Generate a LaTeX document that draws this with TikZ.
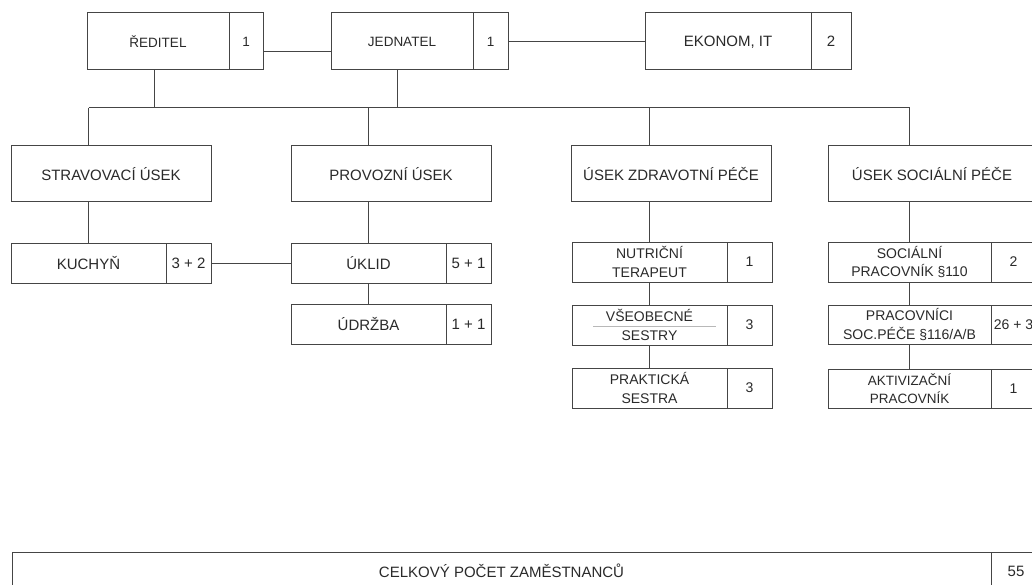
\documentclass[tikz,border=0pt]{standalone}
\usepackage{fontspec}
\setmainfont{Liberation Sans}
\definecolor{linec}{HTML}{454545}
\definecolor{textc}{HTML}{2A2A2A}
\definecolor{faint}{HTML}{B8B8B8}
\newcommand\fsz[1]{\fontsize{#1}{18.5}\selectfont}
\tikzset{
  frame/.style={draw=linec, line width=1pt, inner sep=0pt, outer sep=0pt,
                anchor=north west, align=center, text=textc},
  mainbox/.style args={#1x#2}{frame, minimum width=#1, minimum height=#2},
  cntbox/.style args={#1x#2}{frame, minimum width=#1, minimum height=#2},
  link/.style={draw=linec, line width=1pt},
}
\begin{document}
\begin{tikzpicture}[x=1pt, y=-1pt]
\clip (0,0) rectangle (1032,585);
\fill[white] (0,0) rectangle (1032,585);

% management row
\node[mainbox=142x57, font=\fsz{13.5}] (red) at (87,13) {ŘEDITEL};
\node[cntbox=34x57, font=\fsz{13.5}] (redn) at (red.north east) {1};
\node[mainbox=142x57, font=\fsz{13.5}] (jed) at (331,13) {JEDNATEL};
\node[cntbox=35x57, font=\fsz{13.5}] (jedn) at (jed.north east) {1};
\node[mainbox=166x57, font=\fsz{15}] (eko) at (645,13) {EKONOM\smash{,} IT};
\node[cntbox=40x57, font=\fsz{15}] (ekon) at (eko.north east) {2};

% departments
\node[mainbox=200x56, font=\fsz{15}] (stra) at (11,146) {STRAVOVACÍ ÚSEK};
\node[mainbox=200x56, font=\fsz{15}] (prov) at (291,146) {PROVOZNÍ ÚSEK};
\node[mainbox=200x56, font=\fsz{15}] (zdr) at (571,146) {ÚSEK ZDRAVOTNÍ PÉČE};
\node[mainbox=208x56, font=\fsz{15}] (soc) at (828,146) {ÚSEK SOCIÁLNÍ PÉČE};

% catering and operations units
\node[mainbox=155x40, font=\fsz{15}] (kuch) at (11,243) {KUCHYŇ};
\node[cntbox=45x40, font=\fsz{15}] (kuchn) at (kuch.north east) {3 + 2};
\node[mainbox=155x40, font=\fsz{15}] (ukl) at (291,243) {ÚKLID};
\node[cntbox=45x40, font=\fsz{15}] (ukln) at (ukl.north east) {5 + 1};
\node[mainbox=155x40, font=\fsz{15}] (udr) at (291,304) {ÚDRŽBA};
\node[cntbox=45x40, font=\fsz{15}] (udrn) at (udr.north east) {1 + 1};

% health care units
\node[mainbox=155x40, font=\fsz{14}] (nut) at (572,242) {NUTRIČNÍ\\TERAPEUT};
\node[cntbox=45x40, font=\fsz{14}] (nutn) at (nut.north east) {1};
\node[mainbox=155x40, font=\fsz{14}] (vse) at (572,305) {VŠEOBECNÉ\\SESTRY};
\node[cntbox=45x40, font=\fsz{14}] (vsen) at (vse.north east) {3};
\node[mainbox=155x40, font=\fsz{14}] (pra) at (572,368) {PRAKTICKÁ\\SESTRA};
\node[cntbox=45x40, font=\fsz{14}] (pran) at (pra.north east) {3};

% social care units
\node[mainbox=163x40, font=\fsz{14}] (spr) at (828,242) {SOCIÁLNÍ\\PRACOVNÍK §110};
\node[cntbox=45x40, font=\fsz{14}] (sprn) at (spr.north east) {2};
\node[mainbox=163x39, font=\fsz{14}] (psp) at (828,305) {PRACOVNÍCI\\SOC.PÉČE §116/A/B};
\node[cntbox=45x39, font=\fsz{14}] (pspn) at (psp.north east) {26 + 3};
\node[mainbox=163x39, font=\fsz{13.5}] (akt) at (828,369) {AKTIVIZAČNÍ\\PRACOVNÍK};
\node[cntbox=45x39, font=\fsz{14}] (aktn) at (akt.north east) {1};

% staff total
\node[mainbox=979x38, font=\fsz{15}] (tot) at (12,552) {CELKOVÝ POČET ZAMĚSTNANCŮ};
\node[cntbox=50x38, font=\fsz{15}] (totn) at (tot.north east) {55};

% thin stray rule inside the nurses box
\draw[faint, line width=0.6pt] (593,326) -- (716,326);

% connectors
\coordinate (busy) at (0,108);
\draw[link] ([yshift=-10pt]redn.east) -- ([yshift=-10pt]jed.west);
\draw[link] (jedn.east) -- (eko.west);
\draw[link] ([xshift=-4pt]red.south) -- ([xshift=-4pt]red.south |- busy);
\draw[link] ([xshift=-5pt]jed.south) -- ([xshift=-5pt]jed.south |- busy);
\draw[link] (kuch.north |- busy) -- (spr.north |- busy);
\draw[link] (kuch.north |- busy) -- (kuch.north |- stra.north);
\draw[link] (ukl.north |- busy) -- (ukl.north |- prov.north);
\draw[link] (nut.north |- busy) -- (nut.north |- zdr.north);
\draw[link] (spr.north |- busy) -- (spr.north |- soc.north);
\draw[link] (kuch.north |- stra.south) -- (kuch.north);
\draw[link] (ukl.north |- prov.south) -- (ukl.north);
\draw[link] (nut.north |- zdr.south) -- (nut.north);
\draw[link] (spr.north |- soc.south) -- (spr.north);
\draw[link] (kuchn.east) -- (ukl.west);
\draw[link] (ukl.south) -- (udr.north);
\draw[link] (nut.south) -- (vse.north);
\draw[link] (vse.south) -- (pra.north);
\draw[link] (spr.south) -- (psp.north);
\draw[link] (psp.south) -- (akt.north);
\end{tikzpicture}
\end{document}
